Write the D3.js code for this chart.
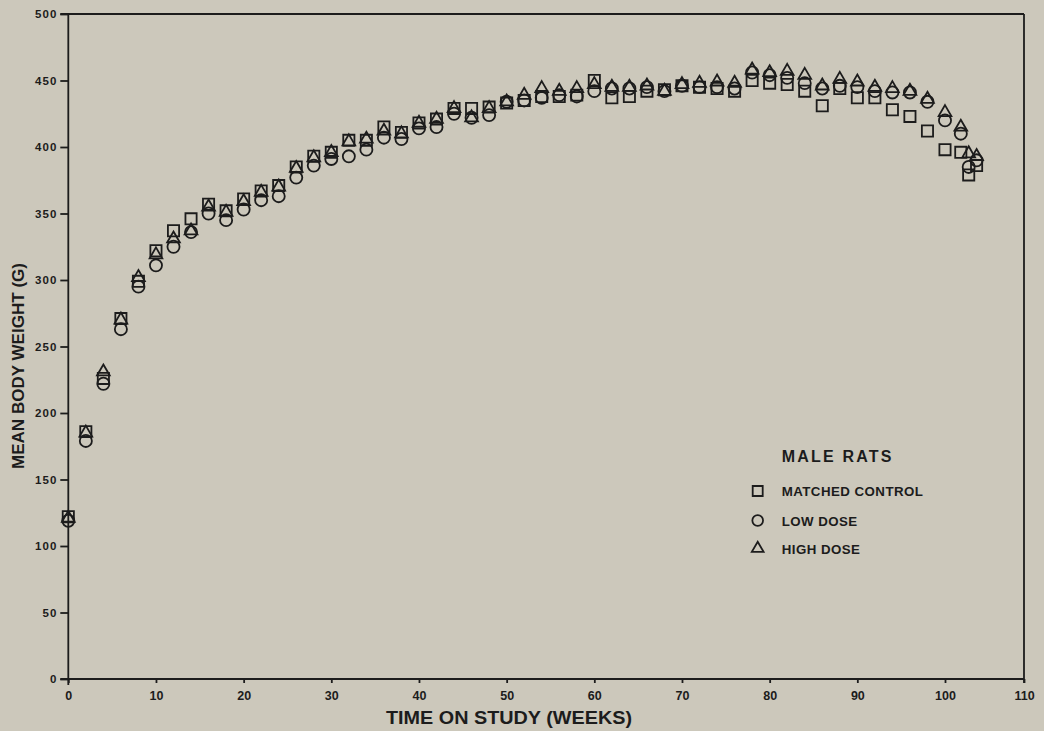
<!DOCTYPE html>
<html>
<head>
<meta charset="utf-8">
<script src="https://cdn.jsdelivr.net/npm/d3@7"></script>
<style>
  html, body { margin: 0; padding: 0; background: #ccc8bb; }
  svg { display: block; }
  text { font-family: "Liberation Sans", Arial, Helvetica, sans-serif; font-weight: bold; fill: #1c1c1c; }
</style>
</head>
<body>
<svg id="chart" width="1044" height="731"></svg>
<script>
// Mean body weight of male rats over the study period
const weeks   = [0, 2, 4, 6, 8, 10, 12, 14, 16, 18, 20, 22, 24, 26, 28, 30, 32, 34, 36, 38, 40, 42, 44, 46, 48, 50,
                 52, 54, 56, 58, 60, 62, 64, 66, 68, 70, 72, 74, 76, 78, 80, 82, 84, 86, 88, 90, 92, 94, 96, 98, 100,
                 102, 103, 104];
const matchedControl = [122, 186, 226, 271, 299, 322, 337, 346, 357, 352, 361, 367, 371, 385, 393, 396, 405, 405, 415, 411,
                        418, 421, 429, 429, 430, 433, 435, 438, 438, 439, 450, 437, 438, 442, 443, 446, 445, 444, 442, 450,
                        448, 447, 442, 431, 444, 437, 437, 428, 423, 412, 398, 396, 379, 386];
const lowDose        = [119, 179, 222, 263, 295, 311, 325, 336, 350, 345, 353, 360, 363, 377, 386, 391, 393, 398, 407, 406,
                        414, 415, 425, 422, 424, 434, 435, 437, 439, 438, 442, 444, 444, 445, 442, 446, 445, 445, 444, 456,
                        454, 452, 448, 444, 446, 445, 442, 441, 441, 434, 420, 410, 385, 390];
const highDose       = [121, 185, 231, 270, 302, 319, 331, 337, 355, 351, 359, 366, 370, 384, 392, 396, 404, 406, 412, 410,
                        418, 421, 429, 422, 429, 434, 439, 444, 442, 444, 447, 445, 445, 446, 442, 447, 448, 449, 448, 458,
                        456, 457, 454, 446, 451, 449, 445, 444, 442, 436, 426, 415, 395, 393];

const xTicks = [0, 10, 20, 30, 40, 50, 60, 70, 80, 90, 100, 110];
const yTicks = [0, 50, 100, 150, 200, 250, 300, 350, 400, 450, 500];

const seriesNames = ["MATCHED CONTROL", "LOW DOSE", "HIGH DOSE"];
const seriesShapes = [d3.symbolSquare, d3.symbolCircle, d3.symbolTriangle];
const seriesValues = [matchedControl, lowDose, highDose];

const ink = "#1c1c1c";
const svg = d3.select("#chart");

// the last axis interval (100-110) is printed shorter than the others
const x = d3.scaleLinear().domain([0, 100, 110]).range([68.3, 945, 1024]);
const y = d3.scaleLinear().domain([0, 500]).range([679, 14]);

// frame
const frame = svg.append("g").attr("stroke", ink).attr("stroke-width", 1.8).attr("fill", "none");
frame.append("line").attr("x1", x(0) - 8).attr("x2", x(110)).attr("y1", y(500)).attr("y2", y(500));
frame.append("line").attr("x1", x(110)).attr("x2", x(110)).attr("y1", y(500)).attr("y2", y(0) + 4);

// y axis
const yAxis = svg.append("g")
  .attr("transform", `translate(${x(0)},0)`)
  .call(d3.axisLeft(y).tickValues(yTicks).tickSize(8).tickSizeOuter(0).tickPadding(3));
yAxis.select(".domain").attr("d", `M0,${y(500)}V${y(0) + 6}`);
yAxis.selectAll("text").attr("font-size", 11.5).attr("letter-spacing", 1).attr("font-family", null);

// x axis
const xAxis = svg.append("g")
  .attr("transform", `translate(0,${y(0)})`)
  .call(d3.axisBottom(x).tickValues(xTicks).tickSize(4).tickSizeOuter(0).tickPadding(8.5));
xAxis.select(".domain").attr("d", `M${x(0) - 8},0H${x(110)}`);
xAxis.selectAll("text").attr("font-size", 12.5).attr("font-family", null);

svg.selectAll(".domain, .tick line").attr("stroke", ink).attr("stroke-width", 1.8);
svg.selectAll(".tick text").attr("fill", ink);

// axis titles
svg.append("text")
  .attr("x", 509).attr("y", 724)
  .attr("text-anchor", "middle")
  .attr("font-size", 18)
  .attr("textLength", 246).attr("lengthAdjust", "spacingAndGlyphs")
  .text("TIME ON STUDY (WEEKS)");

svg.append("text")
  .attr("transform", "translate(24,366) rotate(-90)")
  .attr("text-anchor", "middle")
  .attr("font-size", 17)
  .attr("textLength", 206).attr("lengthAdjust", "spacingAndGlyphs")
  .text("MEAN BODY WEIGHT (G)");

// markers
const sizes = [125, 115, 70];
seriesValues.forEach((vals, s) => {
  const sym = d3.symbol().type(seriesShapes[s]).size(sizes[s]);
  svg.append("g")
    .attr("fill", "none").attr("stroke", ink).attr("stroke-width", 1.8)
    .selectAll("path")
    .data(weeks.map((w, i) => [w, vals[i]]))
    .join("path")
    .attr("transform", d => `translate(${x(d[0])},${y(d[1])})`)
    .attr("d", sym());
});

// legend
const legend = svg.append("g").attr("transform", "translate(757.7,0)");
legend.append("text")
  .attr("x", 24).attr("y", 461.7)
  .attr("font-size", 16).attr("letter-spacing", 2.2)
  .text("MALE RATS");
const rowY = [491, 520.5, 548.5];
const legendSizes = [100, 90, 60];
seriesNames.forEach((name, s) => {
  legend.append("path")
    .attr("transform", `translate(0,${rowY[s]})`)
    .attr("d", d3.symbol().type(seriesShapes[s]).size(legendSizes[s])())
    .attr("fill", "none").attr("stroke", ink).attr("stroke-width", 1.8);
  legend.append("text")
    .attr("x", 24).attr("y", rowY[s] + 5.3)
    .attr("font-size", 13.3).attr("letter-spacing", 0.45)
    .text(name);
});
</script>
</body>
</html>
